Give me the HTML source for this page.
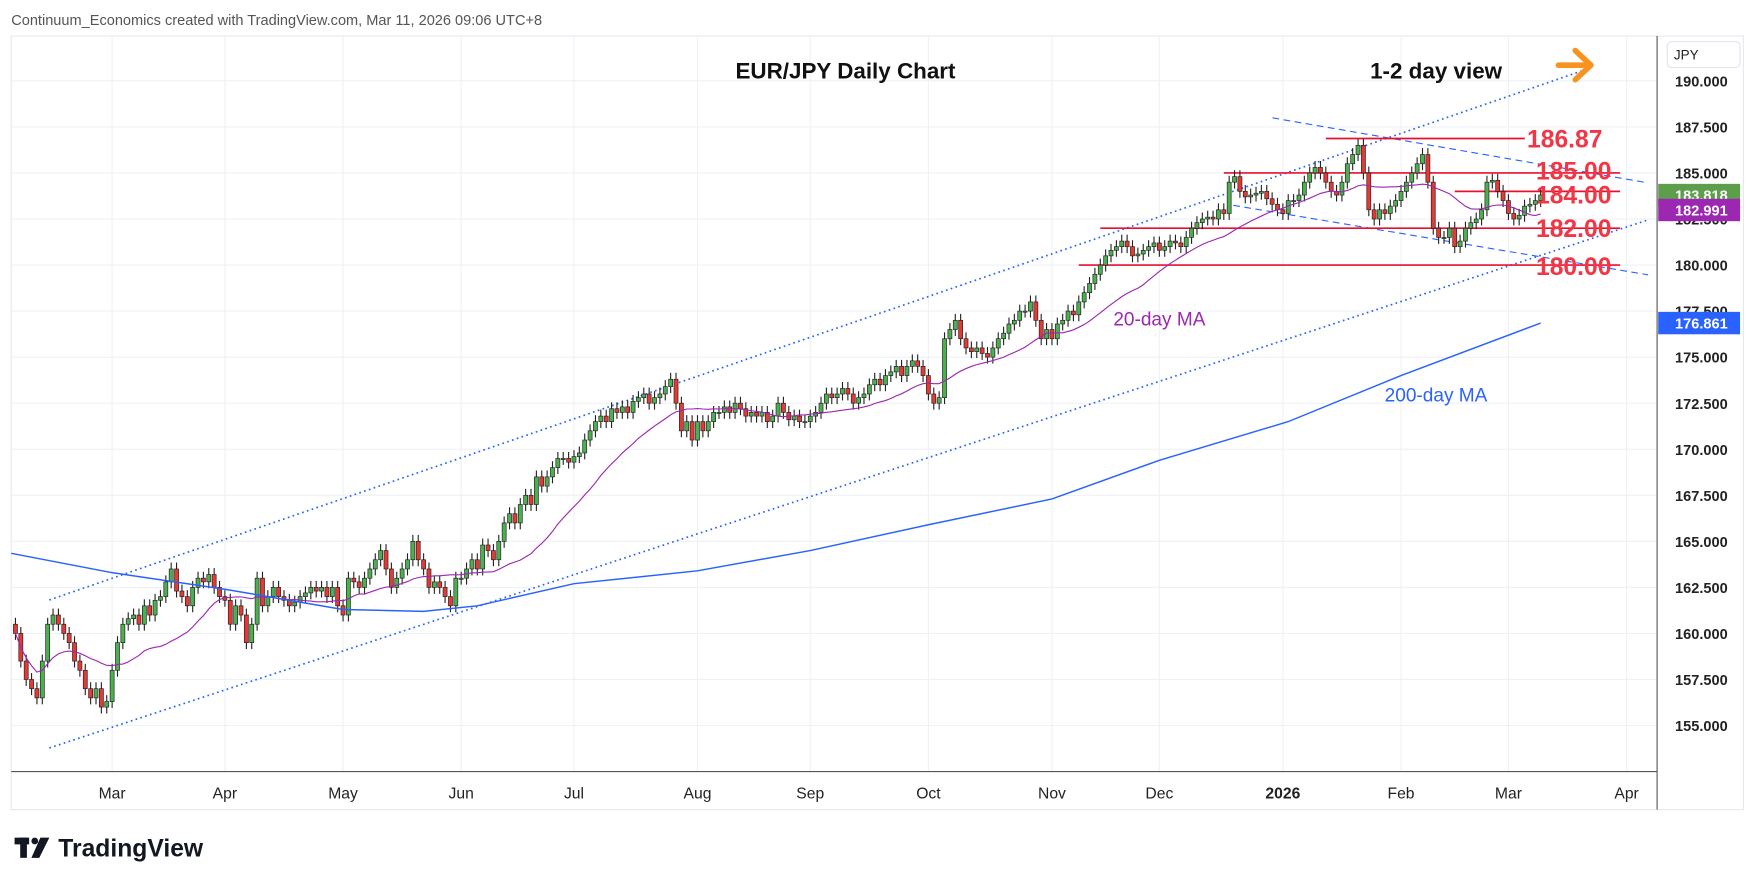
<!DOCTYPE html>
<html><head><meta charset="utf-8"><style>
html,body{margin:0;padding:0;background:#fff;}
svg{display:block;font-family:"Liberation Sans",sans-serif;}
</style></head><body>
<svg id="chart" width="1758" height="886" viewBox="0 0 1568 790" xmlns="http://www.w3.org/2000/svg">
<rect x="0" y="0" width="1568" height="790" fill="#fff"/>
<text x="10" y="22" font-size="13" fill="#555">Continuum_Economics created with TradingView.com, Mar 11, 2026 09:06 UTC+8</text>
<rect x="10" y="32" width="1545" height="690" fill="none" stroke="#e6e9ee"/>
<g id="grid"></g>
<g id="overlays"></g>
<g id="candles"></g>
<g id="mas"></g>
<g id="labels"></g>
<line x1="1478" y1="32" x2="1478" y2="722" stroke="#555" stroke-width="1"/>
<line x1="10" y1="688" x2="1478" y2="688" stroke="#555" stroke-width="1"/>
<g id="yaxis"></g>
<g id="xaxis"></g>
<text x="656" y="70" font-size="20" font-weight="bold" fill="#111">EUR/JPY Daily Chart</text>
<text x="1222" y="70" font-size="20" font-weight="bold" fill="#111">1-2 day view</text>
<g stroke="#f7931e" stroke-width="5" fill="none" stroke-linecap="round" stroke-linejoin="round">
<line x1="1390" y1="58" x2="1418" y2="58"/><polyline points="1405,45 1419,58 1405,71"/></g>
<text x="993" y="290" font-size="17" fill="#9c27b0">20-day MA</text>
<text x="1235" y="358" font-size="17" fill="#2962ff">200-day MA</text>
<rect x="1487" y="37" width="65" height="23" rx="4" fill="#fff" stroke="#e0e3eb"/>
<text x="1493" y="53" font-size="12" fill="#222">JPY</text>
<g>
<rect x="13" y="747" width="13" height="6" fill="#131722"/><rect x="18" y="747" width="6" height="18" fill="#131722"/>
<circle cx="31" cy="750" r="3" fill="#131722"/><polygon points="36,747 44,747 35,765 28,765" fill="#131722"/>
<text x="52" y="764" font-size="22" font-weight="bold" fill="#131722">TradingView</text></g>
</svg>
<script>
const NS="http://www.w3.org/2000/svg";
const closes=[160.0,158.5,157.5,
157.0,156.5,158.5,160.5,161.0, 160.5,160.0,159.5,158.5,158.0, 157.0,156.5,157.0,156.0,156.3,
158.0,159.5,160.5,160.8,161.0, 160.5,161.5,161.0,161.8,162.0, 162.8,163.5,162.3,162.0,161.5, 162.5,163.0,162.8,163.2,162.5,
162.0,161.8,160.5,161.5,161.0, 159.5,160.5,163.0,161.5,162.0, 162.5,162.0,161.8,161.5,161.7, 162.0,162.2,162.5,162.3,162.5,
162.0,162.5,161.5,161.0,163.0, 162.8,162.5,163.0,163.5,164.0, 164.5,163.5,162.5,163.0,163.5, 164.0,165.0,164.0,163.5,162.5,
162.8,162.5,162.0,161.5,163.0, 163.0,163.5,164.0,163.5,164.8, 164.5,164.0,165.0,166.0,166.5, 166.0,167.0,167.5,167.0,168.5,
168.0,168.5,169.0,169.5,169.5, 169.3,169.6,169.8,170.5,171.0, 171.5,171.8,171.5,172.2,172.0, 172.3,172.0,172.6,172.8,173.0,
172.5,172.8,173.0,173.4,173.8, 172.5,171.0,171.5,170.5,171.5, 171.0,171.5,172.0,172.0,172.3, 172.0,172.5,172.2,171.8,172.0,
171.8,172.0,171.5,171.8,172.5, 172.0,171.6,171.8,171.5,171.5, 171.8,172.0,172.5,173.0,172.8, 173.0,173.3,173.0,172.5,172.8,
173.0,173.5,173.8,173.5,174.0, 174.2,174.5,174.0,174.5,174.8, 174.5,174.0,173.0,172.5,172.8, 176.0,176.5,177.0,176.0,175.5,
175.3,175.5,175.2,175.0,175.5, 176.0,176.3,176.8,177.0,177.5, 177.5,178.0,177.0,176.0,176.5, 176.0,176.8,177.0,177.5,177.3,
178.0,178.5,179.0,179.5,180.0, 180.5,180.8,181.0,181.3,181.0, 180.5,180.6,180.8,181.0,181.2, 180.8,181.0,181.3,181.2,181.0,
181.5,182.0,182.3,182.5,182.6, 182.5,183.0,182.8,184.5,184.8, 184.0,183.7,183.8,183.9,184.0, 183.6,183.3,183.0,182.8,183.5,
183.5,183.8,184.5,185.0,185.3, 185.0,184.5,184.0,183.8,184.5, 185.5,186.0,186.5,185.0,183.0, 182.5,183.0,182.8,183.2,183.5,
184.0,184.5,185.0,185.5,186.0, 184.5,182.0,181.5,181.5,182.0, 181.0,181.3,182.0,182.3,182.5, 183.0,184.5,184.6,184.0,183.5,
182.8,182.5,182.7,183.2,183.3, 183.5,183.8];
const ma200Dates=["2025-02-05","2025-03-03","2025-04-01","2025-05-01","2025-05-22","2025-06-05","2025-07-01","2025-08-01","2025-09-01","2025-10-01","2025-11-03","2025-12-01","2026-01-02","2026-02-02","2026-03-10"];
const ma200Values=[164.35,163.3,162.4,161.3,161.2,161.5,162.7,163.4,164.5,165.9,167.3,169.4,171.5,174.0,176.85];
const yTicks=[190,187.5,185,182.5,180,177.5,175,172.5,170,167.5,165,162.5,160,157.5,155];
const monthLabels=["Mar","Apr","May","Jun","Jul","Aug","Sep","Oct","Nov","Dec","2026","Feb","Mar","Apr"];
const levels=[186.87,185.00,184.00,182.00,180.00];
const levelStartDates=["2026-01-13","2025-12-17","2026-02-16","2025-11-14","2025-11-10"];

const Y=p=>72+(190-p)*(575/35);
const dates=[];{let d=new Date(Date.UTC(2025,1,5));while(dates.length<closes.length+60){const w=d.getUTCDay();if(w>0&&w<6)dates.push(d.toISOString().slice(0,10));d=new Date(d.getTime()+86400000);}}
const i0=dates.indexOf("2025-03-03");
const X=i=>100+(i-i0)*4.79;
const XD=s=>{let i=dates.findIndex(d=>d>=s);return X(i);};
function mk(t,a,p){const e=document.createElementNS(NS,t);for(const k in a)e.setAttribute(k,a[k]);(p||document.getElementById('chart')).appendChild(e);return e;}
const grid=document.getElementById('grid'),ya=document.getElementById('yaxis'),xa=document.getElementById('xaxis');
yTicks.forEach(v=>{const y=Y(v);
 const l=mk('line',{x1:10,x2:1478,y1:y,y2:y,stroke:'#eef1f5'},grid);
 
 
 const t=mk('text',{x:1494,y:y+5,'font-size':13,fill:'#222','font-weight':'bold'},ya);t.textContent=v.toFixed(3);
 
 });
let mi=0,lastM=null;
dates.forEach((d,i)=>{const m=d.slice(0,7);if(i>0&&m!==lastM&&mi<monthLabels.length&&d>="2025-03-01"){const x=X(i);if(x<1478){
 const l=mk('line',{x1:x,x2:x,y1:32,y2:688,stroke:'#eef1f5'},grid);
 
 
 const t=mk('text',{x:x,y:712,'font-size':14,fill:'#222','text-anchor':'middle','font-weight':monthLabels[mi]==='2026'?'bold':'normal'},xa);t.textContent=monthLabels[mi];
 
 }mi++;}lastM=m;});
const ov=document.getElementById('overlays'),lb=document.getElementById('labels');
function ln(n,a){const e=mk('line',a,ov);return e;}
ln('channel-upper',{x1:44,y1:535,x2:1420,y2:60,stroke:'#2962ff','stroke-width':1.5,'stroke-dasharray':'1.5,3'});
ln('channel-lower',{x1:44,y1:667,x2:1470,y2:196,stroke:'#2962ff','stroke-width':1.5,'stroke-dasharray':'1.5,3'});
ln('trend-upper-dashed',{x1:1135,y1:105,x2:1470,y2:163,stroke:'#2962ff','stroke-width':1,'stroke-dasharray':'6,4'});
ln('trend-lower-dashed',{x1:1100,y1:183,x2:1470,y2:245,stroke:'#2962ff','stroke-width':1,'stroke-dasharray':'6,4'});
const labelDy=[8,6,11,8,9];
levels.forEach((v,k)=>{const y=Y(v),x1=XD(levelStartDates[k]);
 const e=mk('line',{x1:x1,x2:k===0?1360:1445,y1:y,y2:y,stroke:'#e8102e','stroke-width':1.5},ov);
 
 
 const t=mk('text',{x:k===0?1362:1370,y:y+labelDy[k],'font-size':22,fill:'#f23645','font-weight':'bold'},lb);t.textContent=v.toFixed(2);
 
 });
const cg=document.getElementById('candles');
closes.forEach((c,i)=>{const o=i?closes[i-1]:c+0.5;const hi=Math.max(o,c)+0.35,lo=Math.min(o,c)-0.35;const x=X(i),up=c>=o;
 const w=mk('line',{x1:x,x2:x,y1:Y(hi),y2:Y(lo),stroke:'#222','stroke-width':1},cg);
 
 
 const r=mk('rect',{x:x-1.8,y:Y(Math.max(o,c)),width:3.6,height:Math.max(1,Math.abs(Y(o)-Y(c))),fill:up?'#4caf50':'#e53935',stroke:'#222','stroke-width':0.6},cg);
 
 });
const mg=document.getElementById('mas');
let pts=[];closes.forEach((c,i)=>{const s=closes.slice(Math.max(0,i-19),i+1);const m=s.reduce((a,b)=>a+b,0)/s.length;pts.push(X(i)+','+Y(m));});
const p20=mk('polyline',{points:pts.join(' '),fill:'none',stroke:'#9c27b0','stroke-width':1},mg);


const p200=mk('polyline',{points:ma200Dates.map((d,k)=>(k===0?10:XD(d))+','+Y(ma200Values[k])).join(' '),fill:'none',stroke:'#2962ff','stroke-width':1.3},mg);


function badge(n,v,col,txt){const y=Y(v);const r=mk('rect',{x:1479,y:y-10,width:73,height:20,fill:col},ya);
 
 
 const t=mk('text',{x:1494,y:y+5,'font-size':13,fill:'#fff','font-weight':'bold'},ya);t.textContent=txt;}
badge('last-price-badge',closes[closes.length-1],'#5c9e4a',"183.818");
badge('ma20-badge',182.99,'#9c27b0',"182.991");
badge('ma200-badge',ma200Values[ma200Values.length-1],'#2962ff',"176.861");
</script>
</body></html>
